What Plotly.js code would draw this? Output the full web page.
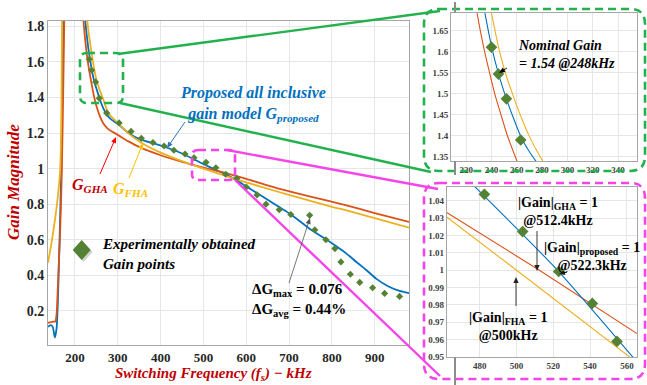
<!DOCTYPE html>
<html><head><meta charset="utf-8">
<script src="https://cdn.plot.ly/plotly-3.0.1.min.js"></script>
<style>html,body{margin:0;padding:0;background:#fff}#chart{width:647px;height:385px}</style>
</head><body><div id="chart"></div>
<script>
// ---------- main chart data (kHz, gain) ----------
const freqProposed = [137,143,148,153,157,160,164,168,171,174,177,215,219,223,227,231,236,244,250,258,266,274,285,300,325,352,400,450,482,522,554,577,600,650,678,702,748,800,834,857,880,904,930,958,980];
const gainProposed = [0.11,0.12,0.11,0.05,0.10,0.25,0.6,1.0,1.5,2.0,2.6,2.6,2.1,1.86,1.76,1.68,1.6,1.5,1.45,1.39,1.34,1.305,1.275,1.252,1.20,1.164,1.13,1.085,1.047,1.0,0.965,0.935,0.90,0.825,0.782,0.746,0.662,0.58,0.522,0.475,0.43,0.38,0.34,0.312,0.30];

const freqGHA = [137,150,154,157,161,165,169,173,176,179,212,216,219,224,230,237,245,251,258,266,275,285,297,325,352,400,450,500,550,600,678,750,834,900,980];
const gainGHA = [0.133,0.14,0.14,0.18,0.4,0.62,0.95,1.5,2.0,2.6,2.6,2.1,1.86,1.72,1.6,1.5,1.40,1.345,1.295,1.255,1.228,1.21,1.194,1.153,1.119,1.075,1.038,1.006,0.976,0.942,0.886,0.843,0.793,0.75,0.70];

const freqFHA = [137,145,152,158,162,165,167,168.5,170,172,220,224,228,232,237,242,250,258,266,274,282,292,305,325,352,400,450,500,546,592,678,725,800,834,900,980];
const gainFHA = [0.47,0.58,0.69,0.80,0.89,0.98,1.12,1.4,1.9,2.6,2.6,2.15,1.86,1.76,1.68,1.6,1.5,1.44,1.39,1.335,1.30,1.275,1.245,1.198,1.15,1.09,1.042,1.0,0.963,0.928,0.867,0.835,0.785,0.765,0.722,0.668];

const freqExp = [233.4,239,248.3,256.7,274,303,331,355,382,408,431,457,478,506,529,552,578,600,625,646,677,704,748,760,786,807,821,843,865,895,923,958];
const gainExp = [1.615,1.553,1.487,1.396,1.312,1.257,1.209,1.170,1.147,1.127,1.103,1.082,1.061,1.035,1.005,0.968,0.945,0.896,0.852,0.80,0.769,0.742,0.737,0.655,0.60,0.55,0.475,0.406,0.36,0.33,0.298,0.281];

// ---------- inset 1 (around nominal gain) ----------
const in1FreqProposed = [234.8,240,245.5,251.8,258,264,270,275.5];
const in1GainProposed = [1.692,1.613,1.548,1.488,1.437,1.393,1.362,1.338];
const in1FreqGHA = [228.6,231.5,234.6,238.5,242.6,247.5,252.6,260.5];
const in1GainGHA = [1.692,1.645,1.6,1.55,1.5,1.45,1.4,1.337];
const in1FreqFHA = [240,246,252,258,264,270,275.5,281];
const in1GainFHA = [1.692,1.605,1.54,1.488,1.44,1.398,1.366,1.337];
const in1FreqExp = [240,245.5,251.8,263.1];
const in1GainExp = [1.611,1.547,1.488,1.39];

// ---------- inset 2 (unity gain crossings) ----------
const in2FreqProposed = [475,522.3,564];
const in2GainProposed = [1.0506,1.0,0.949];
const in2FreqGHA = [462,512.4,565.5];
const in2GainGHA = [1.0333,1.0,0.9635];
const in2FreqFHA = [462,500,564];
const in2GainFHA = [1.0307,1.0,0.948];
const in2FreqExp = [482.5,503.3,522.9,541.2,554.6];
const in2GainExp = [1.0438,1.0223,0.9993,0.9809,0.959];

const mainTicksX = [200,300,400,500,600,700,800,900];

// ---------- styling ----------
const W = 647, H = 385;
const C_BLUE = '#0072BD', C_RED = '#D95319', C_YEL = '#EDB120', C_DIA = '#548235';
const C_GREEN = '#22B14C', C_PINK = '#F544E8';
const px = v => v / W, py = v => 1 - v / H;
const SERIF = 'Liberation Serif, Times New Roman, serif';

function line(x, y, color, w, xa, ya) {
  return {x: x, y: y, type: 'scatter', mode: 'lines', line: {color: color, width: w, shape: 'spline', smoothing: 0.6},
          xaxis: xa, yaxis: ya, hoverinfo: 'skip'};
}
function pts(x, y, size, xa, ya) {
  return {x: x, y: y, type: 'scatter', mode: 'markers', marker: {symbol: 'diamond', size: size, color: C_DIA,
          line: {width: 0}}, xaxis: xa, yaxis: ya, hoverinfo: 'skip'};
}

const traces = [
  line(freqProposed, gainProposed, C_BLUE, 1.8, 'x', 'y'),
  line(freqGHA, gainGHA, C_RED, 1.8, 'x', 'y'),
  line(freqFHA, gainFHA, C_YEL, 1.8, 'x', 'y'),
  pts(freqExp, gainExp, 5.5, 'x', 'y'),
  line(in1FreqGHA, in1GainGHA, C_RED, 1.1, 'x2', 'y2'),
  line(in1FreqProposed, in1GainProposed, C_BLUE, 1.1, 'x2', 'y2'),
  line(in1FreqFHA, in1GainFHA, C_YEL, 1.1, 'x2', 'y2'),
  pts(in1FreqExp, in1GainExp, 9, 'x2', 'y2'),
  line(in2FreqGHA, in2GainGHA, C_RED, 1.1, 'x3', 'y3'),
  line(in2FreqFHA, in2GainFHA, C_YEL, 1.1, 'x3', 'y3'),
  line(in2FreqProposed, in2GainProposed, C_BLUE, 1.1, 'x3', 'y3'),
  pts(in2FreqExp, in2GainExp, 9, 'x3', 'y3')
];

const axBase = {showgrid: true, gridcolor: '#e6e6e6', gridwidth: 1, zeroline: false, showline: true, linecolor: '#a6a6a6',
                linewidth: 1, mirror: true, ticks: '', fixedrange: true};
const mainTick = {family: SERIF, size: 14, weight: 'bold', color: '#262626'};
const mainTickX = {family: SERIF, size: 13, weight: 'bold', color: '#262626'};
const smallTick = {family: SERIF, size: 9, weight: 'bold', color: '#404040'};

const f5 = v => v.toFixed(5);
function rrect(x0, y0, x1, y1, r) {
  const X = v => f5(px(v)), Y = v => f5(py(v));
  return `M${X(x0+r)},${Y(y0)} L${X(x1-r)},${Y(y0)} Q${X(x1)},${Y(y0)} ${X(x1)},${Y(y0+r)} ` +
         `L${X(x1)},${Y(y1-r)} Q${X(x1)},${Y(y1)} ${X(x1-r)},${Y(y1)} L${X(x0+r)},${Y(y1)} ` +
         `Q${X(x0)},${Y(y1)} ${X(x0)},${Y(y1-r)} L${X(x0)},${Y(y0+r)} Q${X(x0)},${Y(y0)} ${X(x0+r)},${Y(y0)} Z`;
}
function seg(x0, y0, x1, y1, color, w, dash) {
  return {type: 'line', xref: 'paper', yref: 'paper', x0: px(x0), y0: py(y0), x1: px(x1), y1: py(y1),
          line: {color: color, width: w, dash: dash || 'solid'}, layer: 'above'};
}
function box(x0, y0, x1, y1, r, color) {
  return {type: 'path', xref: 'paper', yref: 'paper', path: rrect(x0, y0, x1, y1, r),
          line: {color: color, width: 2.6, dash: '8px,5px'}, layer: 'above'};
}
function poly(points, fill) {
  const d = points.map((p, i) => (i ? 'L' : 'M') + f5(px(p[0])) + ',' + f5(py(p[1]))).join(' ') + ' Z';
  return {type: 'path', xref: 'paper', yref: 'paper', path: d, fillcolor: fill, line: {width: 0}, layer: 'above'};
}
// arrow from tail (tx,ty) to head (hx,hy), pixel positions
function arrow(tx, ty, hx, hy, color, w) {
  const dx = hx - tx, dy = hy - ty, L = Math.hypot(dx, dy), ux = dx / L, uy = dy / L;
  const hl = 6, hw = 2.6;
  const bx = hx - ux * hl, by = hy - uy * hl;
  return [seg(tx, ty, bx + ux, by + uy, color, w),
          poly([[hx, hy], [bx - uy * hw, by + ux * hw], [bx + uy * hw, by - ux * hw]], color)];
}

const shapes = [
  box(80, 53, 123, 103, 7, C_GREEN),
  box(192, 150, 235, 180, 6, C_PINK),
  seg(118, 54, 440, 11, C_GREEN, 2.4),
  seg(120, 103, 431, 172, C_GREEN, 2.4),
  seg(227, 150, 438, 189, C_PINK, 2.4),
  seg(235, 180, 440, 376, C_PINK, 2.4),
  box(424, 9, 645, 171, 15, C_GREEN),
  box(424, 183, 645, 379, 15, C_PINK),
  seg(455, 2, 455, 12.5, '#8c8c8c', 2),
  seg(455, 161, 455, 175, '#8c8c8c', 2),
  seg(455, 357, 455, 385, '#8c8c8c', 2),
  poly([[83.5, 242], [92.5, 252], [83.5, 262], [74.5, 252]], 'rgba(0,0,0,0.18)'),
  poly([[81.7, 240], [90.7, 250], [81.7, 260], [72.7, 250]], C_DIA)
].concat(
  arrow(185, 122, 167, 148, '#2E75B6', 1),
  arrow(100, 174, 116, 137, '#FF0000', 1),
  arrow(129, 178, 143, 143, '#FFC000', 1),
  arrow(289, 283, 310, 218, '#555555', 0.8),
  arrow(507, 68, 499, 73, '#000000', 0.9),
  arrow(537, 231, 537, 271, '#222222', 0.9),
  arrow(567, 272, 559, 274, '#222222', 0.9),
  arrow(516, 306, 516, 277, '#222222', 0.9)
);

function txt(x, y, text, opts) {
  return Object.assign({xref: 'paper', yref: 'paper', x: px(x), y: py(y), text: text, showarrow: false,
    xanchor: 'center', yanchor: 'middle',
    font: {family: SERIF, size: 15, weight: 'bold', style: 'italic', color: '#000'}}, opts || {});
}

const annotations = [
  txt(213, 364, 'Switching Frequency (<i>f</i><sub>s</sub>) − kHz', {yanchor: 'top', borderpad: 0, font: {family: SERIF, size: 15, weight: 'bold', style: 'italic', color: '#C00000'}}),
  txt(14, 182, 'Gain Magnitude', {textangle: -90, font: {family: SERIF, size: 17, weight: 'bold', style: 'italic', color: '#C00000'}}),
  txt(253, 104, 'Proposed all inclusive<br>gain model G<sub>proposed</sub>', {font: {family: SERIF, size: 16, weight: 'bold', style: 'italic', color: '#0070C0'}}),
  txt(90, 185, 'G<sub>GHA</sub>', {font: {family: SERIF, size: 16, weight: 'bold', style: 'italic', color: '#C00000'}}),
  txt(130, 190, 'G<sub>FHA</sub>', {font: {family: SERIF, size: 16, weight: 'bold', style: 'italic', color: '#FFC000'}}),
  txt(100, 254, 'Experimentally obtained<br>Gain points', {xanchor: 'left', align: 'left', font: {family: SERIF, size: 15, weight: 'bold', style: 'italic', color: '#000'}}),
  txt(250, 300, 'ΔG<sub>max</sub> = 0.076<br>ΔG<sub>avg</sub> = 0.44%', {xanchor: 'left', align: 'left', font: {family: SERIF, size: 15, weight: 'bold', style: 'normal', color: '#000'}}),
  txt(516, 55, 'Nominal Gain<br>= 1.54 @248kHz', {xanchor: 'left', align: 'left', font: {family: SERIF, size: 14, weight: 'bold', style: 'italic', color: '#000'}}),
  txt(558, 212, '|Gain|<sub>GHA</sub> = 1<br>@512.4kHz', {font: {family: SERIF, size: 14, weight: 'bold', style: 'normal', color: '#000'}}),
  txt(592, 256, '|Gain|<sub>proposed</sub> = 1<br>@522.3kHz', {font: {family: SERIF, size: 14, weight: 'bold', style: 'normal', color: '#000'}}),
  txt(508, 326, '|Gain|<sub>FHA</sub> = 1<br>@500kHz', {font: {family: SERIF, size: 14, weight: 'bold', style: 'normal', color: '#000'}})
];

const layout = {
  width: W, height: H, margin: {l: 0, r: 0, t: 0, b: 0}, showlegend: false,
  paper_bgcolor: '#fff', plot_bgcolor: '#fff',
  xaxis: Object.assign({}, axBase, {domain: [px(48), px(409)], range: [137, 980], tickvals: mainTicksX, tickfont: mainTickX, anchor: 'y'}),
  yaxis: Object.assign({}, axBase, {domain: [py(345), py(21)], range: [0.008, 1.83], dtick: 0.2, tick0: 0, tickfont: mainTick, anchor: 'x'}),
  xaxis2: Object.assign({}, axBase, {domain: [px(451), px(637)], range: [208, 355], dtick: 20, tick0: 0, tickfont: smallTick, anchor: 'y2'}),
  yaxis2: Object.assign({}, axBase, {domain: [py(161), py(12.7)], range: [1.34, 1.693], dtick: 0.05, tick0: 0, tickfont: smallTick, anchor: 'x2'}),
  xaxis3: Object.assign({}, axBase, {domain: [px(446.7), px(637)], range: [462, 565.5], dtick: 20, tick0: 0, tickfont: smallTick, anchor: 'y3'}),
  yaxis3: Object.assign({}, axBase, {domain: [py(357), py(187)], range: [0.950, 1.048], dtick: 0.01, tick0: 0, tickfont: smallTick, anchor: 'x3'}),
  shapes: shapes,
  annotations: annotations
};

Plotly.newPlot('chart', traces, layout, {staticPlot: true, displayModeBar: false});
</script>
</body></html>
